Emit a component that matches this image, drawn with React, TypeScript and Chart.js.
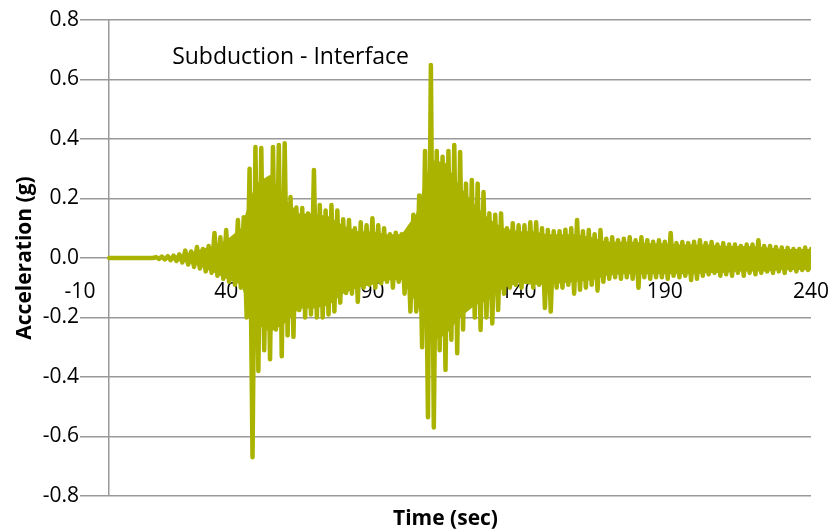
import React, { useEffect, useRef } from "react";
import { Chart, registerables } from "chart.js";

Chart.register(...registerables);

// Sampling start and step of the record (seconds)
const timeStart = 0;
const timeStep = 1;

// Ground acceleration (g), one value per second
const acceleration: number[] = [
  0, 0, 0, 0, 0, 0, 0, 0, 0, 0,
  0, 0, 0, 0, 0, 0, 0.003, -0.003, 0.005, -0.005,
  0.006, -0.007, 0.008, -0.01, 0.012, -0.015, 0.025, -0.022, 0.022, -0.03,
  0.037, -0.035, 0.03, -0.045, 0.04, -0.05, 0.084, -0.06, 0.07, -0.07,
  0.094, -0.08, 0.06, -0.09, 0.128, -0.1, 0.137, -0.2, 0.3, -0.67,
  0.373, -0.38, 0.37, -0.31, 0.235, -0.34, 0.373, -0.24, 0.38, -0.33,
  0.386, -0.26, 0.205, -0.265, 0.17, -0.175, 0.168, -0.2, 0.15, -0.19,
  0.296, -0.2, 0.178, -0.2, 0.16, -0.19, 0.178, -0.18, 0.16, -0.15,
  0.13, -0.118, 0.128, -0.12, 0.1, -0.148, 0.12, -0.1, 0.11, -0.09,
  0.134, -0.1, 0.11, -0.085, 0.1, -0.08, 0.08, -0.1, 0.085, -0.08,
  0.08, -0.12, 0.09, -0.18, 0.145, -0.18, 0.21, -0.3, 0.36, -0.535,
  0.649, -0.57, 0.36, -0.31, 0.34, -0.376, 0.36, -0.275, 0.38, -0.32,
  0.356, -0.24, 0.25, -0.165, 0.262, -0.2, 0.25, -0.242, 0.222, -0.2,
  0.15, -0.22, 0.145, -0.175, 0.15, -0.12, 0.1, -0.1, 0.117, -0.09,
  0.11, -0.1, 0.11, -0.08, 0.12, -0.1, 0.12, -0.09, 0.1, -0.168,
  0.094, -0.18, 0.09, -0.1, 0.09, -0.1, 0.095, -0.09, 0.1, -0.12,
  0.128, -0.107, 0.09, -0.1, 0.094, -0.09, 0.08, -0.11, 0.094, -0.08,
  0.065, -0.07, 0.07, -0.065, 0.06, -0.07, 0.065, -0.065, 0.07, -0.07,
  0.06, -0.1, 0.07, -0.065, 0.06, -0.07, 0.055, -0.065, 0.06, -0.065,
  0.055, -0.07, 0.084, -0.06, 0.05, -0.065, 0.054, -0.06, 0.05, -0.074,
  0.055, -0.07, 0.06, -0.06, 0.05, -0.055, 0.054, -0.05, 0.045, -0.06,
  0.05, -0.055, 0.045, -0.06, 0.045, -0.05, 0.04, -0.06, 0.045, -0.05,
  0.045, -0.055, 0.06, -0.05, 0.04, -0.045, 0.04, -0.05, 0.037, -0.045,
  0.035, -0.05, 0.034, -0.04, 0.03, -0.045, 0.03, -0.04, 0.035, -0.04,
  0.03,
];

// Solid core of the dense record (g), every 5 seconds
const coreStep = 5;
const coreUpper: number[] = [
  0, 0, 0, 0, 0.005, 0.012, 0.025, 0.04, 0.06, 0.1,
  0.25, 0.28, 0.2, 0.15, 0.15, 0.14, 0.11, 0.09, 0.09, 0.08,
  0.08, 0.15, 0.33, 0.32, 0.24, 0.18, 0.13, 0.1, 0.09, 0.09,
  0.08, 0.08, 0.08, 0.07, 0.055, 0.055, 0.055, 0.05, 0.05, 0.045,
  0.045, 0.045, 0.04, 0.04, 0.04, 0.035, 0.03, 0.03, 0.03,
];
const coreLower: number[] = [
  0, 0, 0, 0, -0.005, -0.012, -0.025, -0.045, -0.07, -0.09,
  -0.22, -0.25, -0.22, -0.17, -0.17, -0.16, -0.12, -0.1, -0.09, -0.075,
  -0.075, -0.15, -0.28, -0.26, -0.2, -0.16, -0.14, -0.1, -0.085, -0.09,
  -0.09, -0.085, -0.08, -0.075, -0.06, -0.055, -0.055, -0.055, -0.055, -0.055,
  -0.055, -0.05, -0.05, -0.045, -0.045, -0.045, -0.04, -0.04, -0.04,
];

const xTickValues = [-10, 40, 90, 140, 190, 240];
const yTickValues = [-0.8, -0.6, -0.4, -0.2, 0, 0.2, 0.4, 0.6, 0.8];
const chartLabel = "Subduction - Interface";
const xTitle = "Time (sec)";
const yTitle = "Acceleration (g)";

const FONT = "'Open Sans', sans-serif";
const LINE_COLOR = "#AAB400";
const GRID_COLOR = "#999999";

export default function App() {
  const canvasRef = useRef<HTMLCanvasElement | null>(null);

  useEffect(() => {
    if (!canvasRef.current) return;
    const points = acceleration.map((v, i) => ({ x: timeStart + i * timeStep, y: v }));
    const upper = coreUpper.map((v, i) => ({ x: timeStart + i * coreStep, y: v }));
    const lower = coreLower.map((v, i) => ({ x: timeStart + i * coreStep, y: v }));

    const labelPlugin = {
      id: "innerLabel",
      afterDraw(chart: any) {
        const { ctx, scales } = chart;
        const x = scales.x.getPixelForValue(62);
        const y = scales.y.getPixelForValue(0.675);
        ctx.save();
        ctx.font = `23px ${FONT}`;
        ctx.fillStyle = "#000";
        ctx.textAlign = "center";
        ctx.textBaseline = "middle";
        ctx.fillText(chartLabel, x, y);
        ctx.restore();
      },
    };

    const chart = new Chart(canvasRef.current, {
      type: "line",
      data: {
        datasets: [
          {
            data: upper,
            borderWidth: 0,
            borderColor: "rgba(0,0,0,0)",
            backgroundColor: LINE_COLOR,
            pointRadius: 0,
            fill: "+1",
            tension: 0,
          },
          {
            data: lower,
            borderWidth: 0,
            borderColor: "rgba(0,0,0,0)",
            backgroundColor: LINE_COLOR,
            pointRadius: 0,
            fill: false,
            tension: 0,
          },
          {
            data: points,
            borderColor: LINE_COLOR,
            backgroundColor: LINE_COLOR,
            borderWidth: 4.5,
            pointRadius: 0,
            tension: 0,
            fill: false,
            borderJoinStyle: "round",
            borderCapStyle: "round",
          },
        ],
      },
      options: {
        animation: false,
        responsive: false,
        maintainAspectRatio: false,
        layout: { padding: { left: 0, right: 25, top: 20, bottom: 0 } },
        plugins: { legend: { display: false }, tooltip: { enabled: false } },
        scales: {
          x: {
            type: "linear",
            position: "bottom",
            min: -10,
            max: 240,
            afterBuildTicks: (s: any) => {
              s.ticks = [{ value: 0 }];
            },
            afterFit: (s: any) => {
              s.height = 36;
              s.paddingLeft = 0;
              s.paddingRight = 0;
            },
            ticks: { display: false },
            grid: { color: GRID_COLOR, lineWidth: 1.5, drawTicks: false },
            border: { display: false },
            title: {
              display: true,
              text: xTitle,
              font: { family: FONT, size: 21, weight: "bold" },
              color: "#000",
              padding: { top: 4, bottom: 0 },
            },
          },
          x2: {
            type: "linear",
            position: { y: 0 },
            min: -10,
            max: 240,
            afterBuildTicks: (s: any) => {
              s.ticks = xTickValues.map((v) => ({ value: v }));
            },
            afterFit: (s: any) => {
              s.paddingLeft = 0;
              s.paddingRight = 0;
            },
            ticks: {
              font: { family: FONT, size: 21 },
              color: "#000",
              padding: 13,
              maxRotation: 0,
              autoSkip: false,
            },
            grid: { display: false },
            border: { display: false },
          },
          y: {
            type: "linear",
            position: "left",
            min: -0.8,
            max: 0.8,
            afterBuildTicks: (s: any) => {
              s.ticks = yTickValues.map((v) => ({ value: v }));
            },
            afterFit: (s: any) => {
              s.width = 80;
            },
            ticks: {
              font: { family: FONT, size: 21 },
              color: "#000",
              padding: 1,
              callback: (v: any) => Number(v).toFixed(1),
            },
            grid: { color: GRID_COLOR, lineWidth: 1.5, drawTicks: false },
            border: { display: false },
            title: {
              display: true,
              text: yTitle,
              font: { family: FONT, size: 21, weight: "bold" },
              color: "#000",
              padding: { top: 12, bottom: 4 },
            },
          },
        },
      },
      plugins: [labelPlugin],
    });
    return () => chart.destroy();
  }, []);

  return (
    <div style={{ position: "fixed", left: 0, top: 0, width: 836, height: 532, background: "#fff" }}>
      <canvas ref={canvasRef} width={836} height={532} style={{ width: 836, height: 532 }} />
    </div>
  );
}
